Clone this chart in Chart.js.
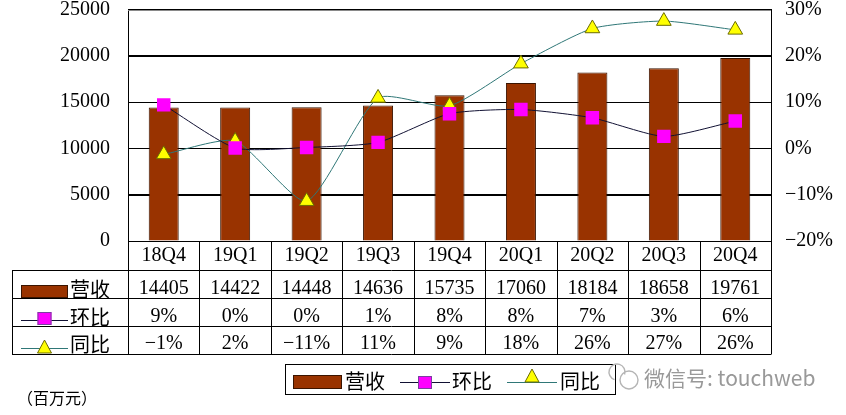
<!DOCTYPE html>
<html>
<head>
<meta charset="utf-8">
<script src="https://cdn.jsdelivr.net/npm/chart.js@4/dist/chart.umd.min.js"></script>
<style>
html,body{margin:0;padding:0;background:#fff;}
canvas{display:block;}
</style>
</head>
<body>
<canvas id="c" width="846" height="415" style="width:846px;height:415px"></canvas>
<script>
// ---- data ----
const categories = ['18Q4','19Q1','19Q2','19Q3','19Q4','20Q1','20Q2','20Q3','20Q4'];
const revenue = [14405,14422,14448,14636,15735,17060,18184,18658,19761];
const qoq = [9.4,0.1,0.2,1.3,7.5,8.4,6.6,2.6,5.9];
const yoy = [-1.3,1.6,-11.4,10.9,9.2,18.3,25.9,27.5,25.6];
const qoqLabels = ['9%','0%','0%','1%','8%','8%','7%','3%','6%'];
const yoyLabels = ['\u22121%','2%','\u221211%','11%','9%','18%','26%','27%','26%'];
const seriesNames = ['营收','环比','同比'];
const leftTicks = [0,5000,10000,15000,20000,25000];
const rightTicks = [-20,-10,0,10,20,30];
const unitLabel = '（百万元）';
const watermark = '微信号: touchweb';

const BAR = '#993300', BAR_BORDER = '#3a1400';
const QOQ_LINE = '#111133', QOQ_FILL = '#ff00ff';
const YOY_LINE = '#2f7777', YOY_FILL = '#ffff00', YOY_BORDER = '#6b6b00';
const NUM_FONT = '20px "Liberation Serif", "DejaVu Serif", serif';
const CJK_FONT = '20px "Noto Sans CJK SC", sans-serif';

function drawKey(ctx, type, x1, x2, yLine, box) {
  ctx.save();
  if (type === 0) {
    ctx.fillStyle = BAR; ctx.strokeStyle = BAR_BORDER; ctx.lineWidth = 1;
    ctx.fillRect(x1, box.top, x2 - x1, box.h);
    ctx.strokeRect(x1 + 0.5, box.top + 0.5, x2 - x1 - 1, box.h - 1);
  } else if (type === 1) {
    ctx.strokeStyle = QOQ_LINE; ctx.lineWidth = 1;
    ctx.beginPath(); ctx.moveTo(x1, yLine + 0.5); ctx.lineTo(x2, yLine + 0.5); ctx.stroke();
    const cx = (x1 + x2) / 2;
    ctx.fillStyle = QOQ_FILL;
    ctx.fillRect(cx - 7, box.sqTop, 14, 13);
    ctx.strokeStyle = '#7a3fa0';
    ctx.strokeRect(cx - 6.5, box.sqTop + 0.5, 13, 12);
  } else {
    ctx.strokeStyle = YOY_LINE; ctx.lineWidth = 1;
    ctx.beginPath(); ctx.moveTo(x1, yLine + 0.5); ctx.lineTo(x2, yLine + 0.5); ctx.stroke();
    const cx = (x1 + x2) / 2;
    ctx.fillStyle = YOY_FILL; ctx.strokeStyle = YOY_BORDER;
    ctx.beginPath();
    ctx.moveTo(cx, box.triTop); ctx.lineTo(cx + 7, box.triTop + 13); ctx.lineTo(cx - 7, box.triTop + 13);
    ctx.closePath(); ctx.fill(); ctx.stroke();
  }
  ctx.restore();
}

const gridPlugin = {
  id: 'gridBehind',
  beforeDatasetsDraw(chart) {
    const ctx = chart.ctx, a = chart.chartArea, ys = chart.scales.y;
    ctx.save();
    leftTicks.forEach(v => {
      const y = Math.round(ys.getPixelForValue(v));
      ctx.fillStyle = v === leftTicks[leftTicks.length - 1] ? '#8a8a8a' : '#000000';
      ctx.fillRect(a.left, y, a.right - a.left, 1);
    });
    ctx.restore();
  }
};

const tablePlugin = {
  id: 'dataTable',
  afterDraw(chart) {
    const ctx = chart.ctx;
    const a = chart.chartArea;
    const xs = chart.scales.x;
    const n = categories.length;
    const colW = (a.right - a.left) / n;
    const tableLeft = 12;
    const rowsY = [a.bottom, 270, 298, 326, 354];

    ctx.save();
    ctx.strokeStyle = '#000';
    ctx.lineWidth = 1;
    ctx.beginPath();
    ctx.moveTo(a.left, rowsY[0] + 0.5); ctx.lineTo(a.right, rowsY[0] + 0.5);
    for (let r = 1; r < rowsY.length; r++) {
      ctx.moveTo(tableLeft, rowsY[r] + 0.5); ctx.lineTo(a.right, rowsY[r] + 0.5);
    }
    for (let i = 0; i <= n; i++) {
      const x = Math.round(a.left + i * colW) + 0.5;
      ctx.moveTo(x, rowsY[0]); ctx.lineTo(x, rowsY[4] + 0.5);
    }
    ctx.moveTo(tableLeft + 0.5, rowsY[1]); ctx.lineTo(tableLeft + 0.5, rowsY[4] + 0.5);
    ctx.stroke();

    ctx.fillStyle = '#000';
    ctx.textAlign = 'center';
    ctx.textBaseline = 'middle';
    ctx.font = NUM_FONT;
    const rowText = [categories, revenue.map(String), qoqLabels, yoyLabels];
    const textY = [256, 289, 317, 344];
    for (let r = 0; r < 4; r++) {
      for (let i = 0; i < n; i++) {
        ctx.fillText(rowText[r][i], xs.getPixelForValue(i), textY[r]);
      }
    }
    ctx.textAlign = 'left';
    ctx.font = CJK_FONT;
    const keyBoxes = [
      {top: 285, h: 13, line: 0},
      {sqTop: 312, line: 320},
      {triTop: 340, line: 348}
    ];
    for (let s = 0; s < 3; s++) {
      drawKey(ctx, s, 21, 68, keyBoxes[s].line, keyBoxes[s]);
      ctx.fillStyle = '#000';
      ctx.fillText(seriesNames[s], 70, textY[s + 1]);
    }

    ctx.strokeStyle = '#000';
    ctx.strokeRect(285.5, 364.5, 330, 30);
    drawKey(ctx, 0, 293, 342, 0, {top: 375, h: 14});
    ctx.fillStyle = '#000';
    ctx.fillText(seriesNames[0], 345, 381);
    drawKey(ctx, 1, 400, 450, 382, {sqTop: 376});
    ctx.fillStyle = '#000';
    ctx.fillText(seriesNames[1], 452, 381);
    drawKey(ctx, 2, 507, 557, 382, {triTop: 369});
    ctx.fillStyle = '#000';
    ctx.fillText(seriesNames[2], 560, 381);

    ctx.font = '16px "Noto Sans CJK SC", sans-serif';
    ctx.fillText(unitLabel, 17, 398);

    ctx.strokeStyle = '#b5b5b5';
    ctx.lineWidth = 1.4;
    ctx.beginPath(); ctx.arc(617, 372, 8, Math.PI * 0.6, Math.PI * 2.1); ctx.stroke();
    ctx.beginPath(); ctx.arc(629, 380, 9, 0, Math.PI * 2); ctx.stroke();
    ctx.fillStyle = '#999';
    ctx.font = '21px "Noto Sans CJK SC", sans-serif';
    ctx.fillText(watermark, 644, 378);
    ctx.restore();
  }
};

new Chart(document.getElementById('c'), {
  type: 'bar',
  data: {
    labels: categories,
    datasets: [
      {
        type: 'line', label: seriesNames[1], data: qoq, yAxisID: 'y1', order: 0,
        borderColor: QOQ_LINE, borderWidth: 1, tension: 0.2,
        pointStyle: 'rect', pointRadius: 9.5, pointBackgroundColor: QOQ_FILL,
        pointBorderColor: QOQ_FILL, pointBorderWidth: 0
      },
      {
        type: 'line', label: seriesNames[2], data: yoy, yAxisID: 'y1', order: 1,
        borderColor: YOY_LINE, borderWidth: 1, tension: 0.2,
        pointStyle: 'triangle', pointRadius: 8.5, pointBackgroundColor: YOY_FILL,
        pointBorderColor: YOY_BORDER, pointBorderWidth: 1
      },
      {
        type: 'bar', label: seriesNames[0], data: revenue, yAxisID: 'y', order: 2,
        backgroundColor: BAR, borderColor: BAR_BORDER, borderWidth: 1,
        barPercentage: 0.42, categoryPercentage: 1
      }
    ]
  },
  options: {
    responsive: false,
    animation: false,
    devicePixelRatio: 1,
    layout: { padding: { top: 9, bottom: 174, left: 0, right: 0 } },
    plugins: { legend: { display: false }, tooltip: { enabled: false } },
    scales: {
      x: { display: false, offset: true },
      y: {
        position: 'left', min: 0, max: 25000,
        afterBuildTicks(s) { s.ticks = leftTicks.map(v => ({value: v})); },
        afterFit(s) { s.width = 128; s.paddingTop = 0; s.paddingBottom = 0; },
        ticks: { padding: 18, color: '#000', font: { family: '"Liberation Serif", serif', size: 20 },
          callback: v => String(v) },
        grid: { display: true, drawTicks: false, color: '#000000', lineWidth: 1 },
        border: { display: true, color: '#000', width: 1 }
      },
      y1: {
        position: 'right', min: -20, max: 30,
        afterBuildTicks(s) { s.ticks = rightTicks.map(v => ({value: v})); },
        afterFit(s) { s.width = 75; s.paddingTop = 0; s.paddingBottom = 0; },
        ticks: { padding: 14, color: '#000', font: { family: '"Liberation Serif", serif', size: 20 },
          callback: v => (v < 0 ? '\u2212' + Math.abs(v) : v) + '%' },
        grid: { display: false, drawTicks: false },
        border: { display: true, color: '#000', width: 1 }
      }
    }
  },
  plugins: [gridPlugin, tablePlugin]
});
</script>
</body>
</html>
